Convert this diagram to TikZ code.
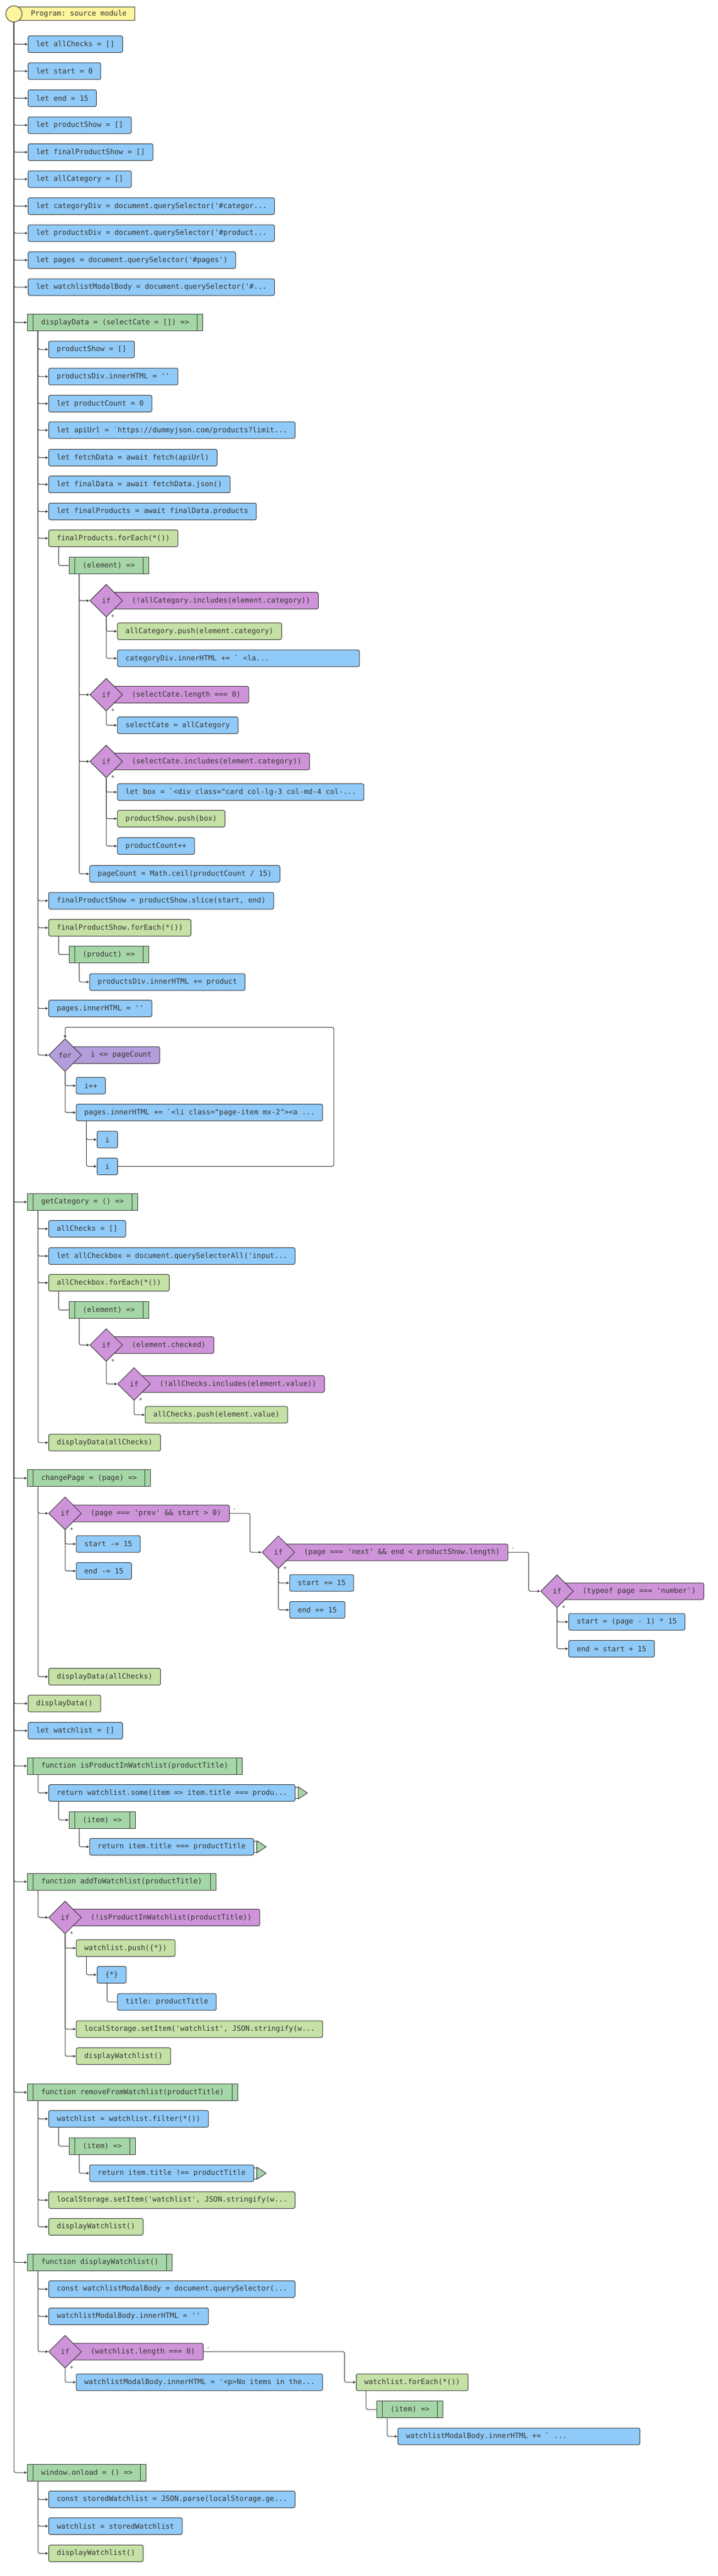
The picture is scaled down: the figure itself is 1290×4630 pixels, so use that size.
\documentclass[tikz,border=0pt]{standalone}
\usepackage{fontspec}
\setmonofont{DejaVu Sans Mono}
\usepackage{xcolor}
\usepackage{tikz}
\usetikzlibrary{shapes.geometric,arrows.meta}

\definecolor{ink}{HTML}{333333}
\definecolor{stmtblue}{HTML}{90CAF9}
\definecolor{calllime}{HTML}{C5E1A5}
\definecolor{funcgreen}{HTML}{A5D6A7}
\definecolor{ifpurple}{HTML}{CE93D8}
\definecolor{looppurple}{HTML}{B39DDB}
\definecolor{startyellow}{HTML}{FFF59D}

\newcommand\srcfont{\fontsize{13pt}{15pt}\selectfont\ttfamily}
\newcommand\trunc[2][414pt]{\makebox[#1][l]{#2}}

\tikzset{
	box/.style={draw=ink, line width=1pt, rounded corners=3pt, minimum height=30pt,
		inner xsep=14.5pt, inner ysep=0pt, anchor=west, font=\srcfont, text=ink},
	stmt/.style={box, fill=stmtblue},
	call/.style={box, fill=calllime},
	func/.style={box, fill=funcgreen, sharp corners, inner xsep=24.5pt,
		path picture={\draw[ink, line width=1pt]
			([xshift=10pt]path picture bounding box.north west) -- ([xshift=10pt]path picture bounding box.south west)
			([xshift=-10pt]path picture bounding box.north east) -- ([xshift=-10pt]path picture bounding box.south east);}},
	cond/.style={box, fill=ifpurple},
	test/.style={diamond, draw=ink, line width=1pt, fill=ifpurple, minimum width=59pt,
		minimum height=59pt, inner sep=0pt, font=\srcfont, text=ink},
	conn/.style={draw=ink, line width=1pt, rounded corners=3pt, -{Latex[length=5pt,width=5pt]}},
	tie/.style={draw=ink, line width=1pt, rounded corners=3pt},
	sign/.style={font=\fontsize{10pt}{12pt}\selectfont\ttfamily, text=ink, inner sep=0pt},
}

\newcommand\decide[3]{%
	\node[cond] (#1c) at (#2) {\hspace*{31pt}#3};
	\node[test] (#1) at (#2) {if};
	\node[sign] at ([xshift=12pt,yshift=1.5pt]#1.south) {+};}

\newcommand\retmark[1]{%
	\draw[ink, line width=1pt] ([yshift=10pt]#1.east) -- ++(5,0) -- ++(0,20) -- ++(-5,0);
	\filldraw[draw=ink, line width=1pt, fill=funcgreen, line join=round]
		([xshift=5pt,yshift=11pt]#1.east) -- ++(16.7,11) -- ++(-16.7,11) -- cycle;}

\begin{document}
\begin{tikzpicture}[x=1pt,y=-1pt]
	\fill[white] (0,0) rectangle (1290,4630);
	\useasboundingbox (0,0) rectangle (1290,4630);

	\node[box, fill=startyellow, sharp corners, minimum height=24pt, inner xsep=15pt] (progl) at (25,25)
		{\hspace*{15pt}Program: source module};
	\node[circle, draw=ink, line width=1pt, fill=startyellow, minimum size=29pt, inner sep=0pt] (prog) at (25,25) {};

	\node[stmt] (vChecks) at (50,79.5) {let allChecks = []};
	\node[stmt] (vStart) at (50,128) {let start = 0};
	\node[stmt] (vEnd) at (50,176.5) {let end = 15};
	\node[stmt] (vShow) at (50,225) {let productShow = []};
	\node[stmt] (vFinal) at (50,273.5) {let finalProductShow = []};
	\node[stmt] (vCats) at (50,322) {let allCategory = []};
	\node[stmt] (vCatDiv) at (50,370.5) {\trunc{let categoryDiv = document.querySelector('\#categor...}};
	\node[stmt] (vProdDiv) at (50,419) {\trunc{let productsDiv = document.querySelector('\#product...}};
	\node[stmt] (vPages) at (50,467.5) {let pages = document.querySelector('\#pages')};
	\node[stmt] (vModal) at (50,516) {\trunc{let watchlistModalBody = document.querySelector('\#...}};

	\node[func] (fDisplay) at (49,579.5) {displayData = (selectCate = []) =>};
	\node[stmt] (dShow) at (87,628) {productShow = []};
	\node[stmt] (dClear) at (87,676.8) {productsDiv.innerHTML = ''};
	\node[stmt] (dCount) at (87,725.4) {let productCount = 0};
	\node[stmt] (dUrl) at (87,773.2) {\trunc{let apiUrl = `https://dummyjson.com/products?limit...}};
	\node[stmt] (dFetch) at (87,822.5) {let fetchData = await fetch(apiUrl)};
	\node[stmt] (dJson) at (87,870.7) {let finalData = await fetchData.json()};
	\node[stmt] (dProds) at (87,919.3) {let finalProducts = await finalData.products};
	\node[call] (dEach) at (87,967.5) {finalProducts.forEach(*())};
	\node[func] (lamEl) at (123.7,1016.4) {(element) =>};
	\decide{if1}{191,1079.6}{(!allCategory.includes(element.category))}
	\node[call] (i1Push) at (210.7,1134.6) {allCategory.push(element.category)};
	\node[stmt] (i1Html) at (210.7,1183.2) {\trunc[406pt]{categoryDiv.innerHTML += ` <la...}};
	\decide{if2}{191,1248.6}{(selectCate.length === 0)}
	\node[stmt] (i2Set) at (210.7,1303.6) {selectCate = allCategory};
	\decide{if3}{191,1368.6}{(selectCate.includes(element.category))}
	\node[stmt] (i3Box) at (210.7,1423.6) {\trunc{let box = `<div class="card col-lg-3 col-md-4 col-...}};
	\node[call] (i3Push) at (210.7,1471.4) {productShow.push(box)};
	\node[stmt] (i3Inc) at (210.7,1520.7) {productCount++};
	\node[stmt] (dPageCnt) at (160.7,1570.7) {pageCount = Math.ceil(productCount / 15)};
	\node[stmt] (dSlice) at (87,1619) {finalProductShow = productShow.slice(start, end)};
	\node[call] (dEach2) at (87,1667.5) {finalProductShow.forEach(*())};
	\node[func] (lamProd) at (123.7,1715.7) {(product) =>};
	\node[stmt] (pAdd) at (160.7,1765) {productsDiv.innerHTML += product};
	\node[stmt] (dPages) at (87,1812.5) {pages.innerHTML = ''};
	\node[cond, fill=looppurple] (forPc) at (117,1896.4) {\hspace*{31pt}i <= pageCount};
	\node[test, fill=looppurple] (forP) at (117,1896.4) {for};
	\node[stmt] (fInc) at (136.6,1951.4) {i++};
	\node[stmt] (fLi) at (136.6,1999.6) {\trunc{pages.innerHTML += `<li class="page-item mx-2"><a ...}};
	\node[stmt] (fI1) at (174.1,2048.2) {i};
	\node[stmt] (fI2) at (174.1,2096.4) {i};

	\node[func] (fGet) at (49,2160.4) {getCategory = () =>};
	\node[stmt] (gReset) at (87,2208.6) {allChecks = []};
	\node[stmt] (gBoxes) at (87,2257.5) {\trunc{let allCheckbox = document.querySelectorAll('input...}};
	\node[call] (gEach) at (87,2305.7) {allCheckbox.forEach(*())};
	\node[func] (lamChk) at (123.7,2354.6) {(element) =>};
	\decide{if4}{191,2417.5}{(element.checked)}
	\decide{if5}{241,2487.5}{(!allChecks.includes(element.value))}
	\node[call] (i5Push) at (260.7,2542.9) {allChecks.push(element.value)};
	\node[call] (gShow) at (87,2592.9) {displayData(allChecks)};

	\node[func] (fPage) at (49,2656.8) {changePage = (page) =>};
	\decide{if6}{117,2720}{(page === 'prev' \&\& start > 0)}
	\node[stmt] (i6Start) at (136.6,2775) {start -= 15};
	\node[stmt] (i6End) at (136.6,2823.6) {end -= 15};
	\decide{if7}{500.5,2790}{(page === 'next' \&\& end < productShow.length)}
	\node[stmt] (i7Start) at (520.3,2845) {start += 15};
	\node[stmt] (i7End) at (520.3,2893.5) {end += 15};
	\decide{if8}{1001.6,2860}{(typeof page === 'number')}
	\node[stmt] (i8Start) at (1022,2915) {start = (page - 1) * 15};
	\node[stmt] (i8End) at (1022,2963.3) {end = start + 15};
	\node[call] (pShow) at (87,3013.6) {displayData(allChecks)};
	\node[sign] at ([xshift=8.7pt,yshift=6pt]if6c.east) {-};
	\node[sign] at ([xshift=8.7pt,yshift=6pt]if7c.east) {-};

	\node[call] (vInit) at (50,3061.8) {displayData()};
	\node[stmt] (vWatch) at (50,3110.7) {let watchlist = []};

	\node[func] (fIn) at (49,3174) {function isProductInWatchlist(productTitle)};
	\node[stmt] (inRet) at (87,3222.5) {\trunc{return watchlist.some(item => item.title === produ...}};
	\node[func] (lamIn) at (123.7,3271) {(item) =>};
	\node[stmt] (inRet2) at (160.7,3319.3) {return item.title === productTitle};
	\retmark{inRet}
	\retmark{inRet2}

	\node[func] (fAdd) at (49,3382) {function addToWatchlist(productTitle)};
	\decide{if9}{117,3446.4}{(!isProductInWatchlist(productTitle))}
	\node[call] (aPush) at (136.6,3501.4) {watchlist.push(\{*\})};
	\node[stmt] (aObj) at (174,3549.3) {\{*\}};
	\node[stmt] (aTitle) at (210.7,3598.2) {title: productTitle};
	\node[call] (aSave) at (136.6,3647) {\trunc{localStorage.setItem('watchlist', JSON.stringify(w...}};
	\node[call] (aList) at (136.6,3695.7) {displayWatchlist()};

	\node[func] (fRem) at (49,3760.7) {function removeFromWatchlist(productTitle)};
	\node[stmt] (rFilter) at (87,3808.3) {watchlist = watchlist.filter(*())};
	\node[func] (lamRem) at (123.7,3857.3) {(item) =>};
	\node[stmt] (rRet) at (160.7,3906) {return item.title !== productTitle};
	\retmark{rRet}
	\node[call] (rSave) at (87,3954.3) {\trunc{localStorage.setItem('watchlist', JSON.stringify(w...}};
	\node[call] (rList) at (87,4002.3) {displayWatchlist()};

	\node[func] (fShow) at (49,4066.3) {function displayWatchlist()};
	\node[stmt] (sBody) at (87,4114.3) {\trunc{const watchlistModalBody = document.querySelector(...}};
	\node[stmt] (sClear) at (87,4163.3) {watchlistModalBody.innerHTML = ''};
	\decide{if10}{117,4226.7}{(watchlist.length === 0)}
	\node[sign] at ([xshift=8.7pt,yshift=6pt]if10c.east) {-};
	\node[stmt] (sEmpty) at (136.6,4281.7) {\trunc{watchlistModalBody.innerHTML = '<p>No items in the...}};
	\node[call] (sEach) at (640,4281.7) {watchlist.forEach(*())};
	\node[func] (lamShow) at (677,4330.7) {(item) =>};
	\node[stmt] (sAdd) at (715,4379) {\trunc[406pt]{watchlistModalBody.innerHTML += ` ...}};

	\node[func] (fLoad) at (49,4444) {window.onload = () =>};
	\node[stmt] (wGet) at (87,4492.3) {\trunc{const storedWatchlist = JSON.parse(localStorage.ge...}};
	\node[stmt] (wSet) at (87,4540.3) {watchlist = storedWatchlist};
	\node[call] (wList) at (87,4589.3) {displayWatchlist()};

	\foreach \n in {vChecks,vStart,vEnd,vShow,vFinal,vCats,vCatDiv,vProdDiv,vPages,vModal,
		fDisplay,fGet,fPage,vInit,vWatch,fIn,fAdd,fRem,fShow,fLoad}
		\draw[conn] (prog.south) |- (\n.west);

	\foreach \n in {dShow,dClear,dCount,dUrl,dFetch,dJson,dProds,dEach,dSlice,dEach2,dPages,forP}
		\draw[conn] ([xshift=19.3pt]fDisplay.south west) |- (\n.west);
	\draw[tie] ([xshift=18.4pt]dEach.south west) |- (lamEl.west);
	\foreach \n in {if1,if2,if3,dPageCnt}
		\draw[conn] ([xshift=18.7pt]lamEl.south west) |- (\n.west);
	\foreach \n in {i1Push,i1Html} \draw[conn] (if1.south) |- (\n.west);
	\draw[conn] (if2.south) |- (i2Set.west);
	\foreach \n in {i3Box,i3Push,i3Inc} \draw[conn] (if3.south) |- (\n.west);
	\draw[tie] ([xshift=18.4pt]dEach2.south west) |- (lamProd.west);
	\draw[conn] ([xshift=18.7pt]lamProd.south west) |- (pAdd.west);
	\foreach \n in {fInc,fLi} \draw[conn] (forP.south) |- (\n.west);
	\foreach \n in {fI1,fI2} \draw[conn] ([xshift=18.8pt]fLi.south west) |- (\n.west);
	\draw[conn] (fI2.east) -| (600,1846.4) -| (forP.north);

	\foreach \n in {gReset,gBoxes,gEach,gShow}
		\draw[conn] ([xshift=19.3pt]fGet.south west) |- (\n.west);
	\draw[tie] ([xshift=18.4pt]gEach.south west) |- (lamChk.west);
	\draw[conn] ([xshift=18.7pt]lamChk.south west) |- (if4.west);
	\draw[conn] (if4.south) |- (if5.west);
	\draw[conn] (if5.south) |- (i5Push.west);

	\foreach \n in {if6,pShow} \draw[conn] ([xshift=19.3pt]fPage.south west) |- (\n.west);
	\foreach \n in {i6Start,i6End} \draw[conn] (if6.south) |- (\n.west);
	\draw[conn] (if6c.east) -| ([xshift=-21pt]if7.west) -- (if7.west);
	\foreach \n in {i7Start,i7End} \draw[conn] (if7.south) |- (\n.west);
	\draw[conn] (if7c.east) -| ([xshift=-21pt]if8.west) -- (if8.west);
	\foreach \n in {i8Start,i8End} \draw[conn] (if8.south) |- (\n.west);

	\draw[conn] ([xshift=19.3pt]fIn.south west) |- (inRet.west);
	\draw[conn] ([xshift=18.4pt]inRet.south west) |- (lamIn.west);
	\draw[conn] ([xshift=18.7pt]lamIn.south west) |- (inRet2.west);

	\draw[conn] ([xshift=19.3pt]fAdd.south west) |- (if9.west);
	\foreach \n in {aPush,aSave,aList} \draw[conn] (if9.south) |- (\n.west);
	\draw[conn] ([xshift=18.8pt]aPush.south west) |- (aObj.west);
	\draw[tie] ([xshift=18.4pt]aObj.south west) |- (aTitle.west);

	\foreach \n in {rFilter,rSave,rList} \draw[conn] ([xshift=19.3pt]fRem.south west) |- (\n.west);
	\draw[tie] ([xshift=18.4pt]rFilter.south west) |- (lamRem.west);
	\draw[conn] ([xshift=18.7pt]lamRem.south west) |- (rRet.west);

	\foreach \n in {sBody,sClear,if10} \draw[conn] ([xshift=19.3pt]fShow.south west) |- (\n.west);
	\draw[conn] (if10.south) |- (sEmpty.west);
	\draw[conn] (if10c.east) -| ([xshift=-20.5pt]sEach.west) -- (sEach.west);
	\draw[tie] ([xshift=18.2pt]sEach.south west) |- (lamShow.west);
	\draw[conn] ([xshift=19pt]lamShow.south west) |- (sAdd.west);

	\foreach \n in {wGet,wSet,wList} \draw[conn] ([xshift=19.3pt]fLoad.south west) |- (\n.west);
\end{tikzpicture}
\end{document}
